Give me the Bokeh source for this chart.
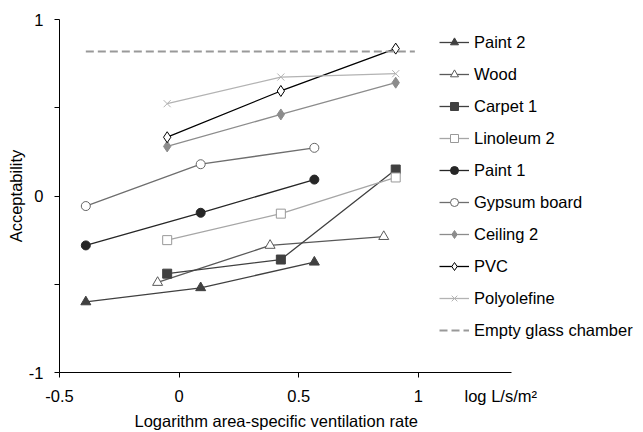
from bokeh.plotting import figure
from bokeh.models import Range1d, FixedTicker, Legend, Title, LinearAxis
from bokeh.embed import file_html
from bokeh.resources import INLINE

# ---- data ----
series_names = ["Paint 2", "Wood", "Carpet 1", "Linoleum 2", "Paint 1",
                "Gypsum board", "Ceiling 2", "PVC", "Polyolefine"]

paint2_x = [-0.39, 0.09, 0.565]
paint2_y = [-0.60, -0.52, -0.375]
wood_x = [-0.09, 0.38, 0.855]
wood_y = [-0.49, -0.28, -0.23]
carpet1_x = [-0.05, 0.425, 0.905]
carpet1_y = [-0.44, -0.36, 0.15]
linoleum2_x = [-0.05, 0.425, 0.905]
linoleum2_y = [-0.25, -0.10, 0.105]
paint1_x = [-0.39, 0.09, 0.565]
paint1_y = [-0.28, -0.095, 0.093]
gypsum_x = [-0.39, 0.09, 0.565]
gypsum_y = [-0.057, 0.18, 0.273]
ceiling2_x = [-0.05, 0.425, 0.905]
ceiling2_y = [0.281, 0.462, 0.642]
pvc_x = [-0.05, 0.425, 0.905]
pvc_y = [0.333, 0.595, 0.835]
poly_x = [-0.05, 0.425, 0.905]
poly_y = [0.523, 0.674, 0.693]
empty_x = [-0.39, 0.985]
empty_y = [0.818, 0.818]

x_ticks = [-0.5, 0, 0.5, 1]
x_tick_labels = ["-0.5", "0", "0.5", "1"]
y_ticks = [-1, -0.5, 0, 0.5, 1]
y_tick_labels = ["-1", "", "0", "", "1"]

x_title = "Logarithm area-specific ventilation rate"
y_title = "Acceptability"
unit_text = "log L/s/m\u00b2"
unit_pos = [1.344]
empty_name = "Empty glass chamber"

FONT = "Liberation Sans"
FS = "16.5px"

p = figure(width=643, height=432, output_backend="svg", toolbar_location=None,
           x_range=Range1d(-0.5, 1.9405), y_range=Range1d(-1, 1),
           min_border_left=59, min_border_right=0, min_border_top=19,
           min_border_bottom=0)
p.outline_line_color = None
p.grid.visible = False
p.background_fill_color = "white"

for ax in (p.xaxis[0], p.yaxis[0]):
    ax.axis_line_color = "black"
    ax.major_tick_line_color = "black"
    ax.major_tick_out = 5
    ax.major_tick_in = 0
    ax.minor_tick_line_color = None
    ax.major_label_text_font = FONT
    ax.major_label_text_font_size = FS
    ax.major_label_text_color = "black"
    ax.axis_label_text_font = FONT
    ax.axis_label_text_font_size = FS
    ax.axis_label_text_font_style = "normal"
    ax.axis_label_text_color = "black"

p.xaxis.ticker = FixedTicker(ticks=x_ticks)
p.xaxis.major_label_overrides = dict(zip(x_ticks, x_tick_labels))
p.xaxis.bounds = (-0.5, 1.39)
p.xaxis.major_label_standoff = 12

p.yaxis.ticker = FixedTicker(ticks=y_ticks)
p.yaxis.major_label_overrides = dict(zip(y_ticks, y_tick_labels))
p.yaxis.major_label_standoff = 11
p.yaxis.axis_label = y_title
p.yaxis.axis_label_standoff = 1

# unit text: a label-only axis pulled up onto the tick-label row
unit_axis = LinearAxis(ticker=FixedTicker(ticks=unit_pos),
                       major_label_overrides={unit_pos[0]: unit_text},
                       axis_line_color=None, major_tick_line_color=None,
                       minor_tick_line_color=None, major_tick_out=0,
                       major_tick_in=0, major_label_standoff=-18,
                       major_label_text_font=FONT, major_label_text_font_size=FS,
                       major_label_text_color="black")
p.add_layout(unit_axis, "below")

xt = Title(text=x_title, align="left", offset=75, standoff=5,
           text_font=FONT, text_font_size=FS, text_font_style="normal",
           text_color="black")
p.add_layout(xt, "below")

lw = 1.3
styles = [
    (paint2_x, paint2_y, "triangle", 10, "#404040", "#404040", "#404040"),
    (wood_x, wood_y, "triangle", 10, "#595959", "white", "#595959"),
    (carpet1_x, carpet1_y, "square", 9, "#404040", "#404040", "#404040"),
    (linoleum2_x, linoleum2_y, "square", 9, "#999999", "white", "#a6a6a6"),
    (paint1_x, paint1_y, "circle", 9, "#262626", "#262626", "#262626"),
    (gypsum_x, gypsum_y, "circle", 9, "#666666", "white", "#6e6e6e"),
    (ceiling2_x, ceiling2_y, "diamond", 11, "#8c8c8c", "#8c8c8c", "#8c8c8c"),
    (pvc_x, pvc_y, "diamond", 11, "#000000", "white", "#000000"),
    (poly_x, poly_y, "x", 10, "#b3b3b3", "#b3b3b3", "#b3b3b3"),
]

items = []
for name, (xs, ys, mk, sz, lc, fc, linec) in zip(series_names, styles):
    r1 = p.line(xs, ys, line_color=linec, line_width=lw)
    r2 = p.scatter(xs, ys, marker=mk, size=sz, line_color=lc, fill_color=fc,
                   line_width=1)
    items.append((name, [r1, r2]))

re = p.line(empty_x, empty_y, line_color="#999999", line_width=2, line_dash="8 4")
items.append((empty_name, [re]))

legend = Legend(items=items, location=(380, 32))
legend.border_line_color = None
legend.background_fill_alpha = 0
legend.margin = 0
legend.padding = 0
legend.spacing = 12
legend.glyph_width = 30
legend.glyph_height = 20
legend.label_height = 20
legend.label_standoff = 5
legend.label_text_font = FONT
legend.label_text_font_size = FS
legend.label_text_color = "black"
p.add_layout(legend, "center")

open("out.html", "w").write(file_html(p, INLINE))
